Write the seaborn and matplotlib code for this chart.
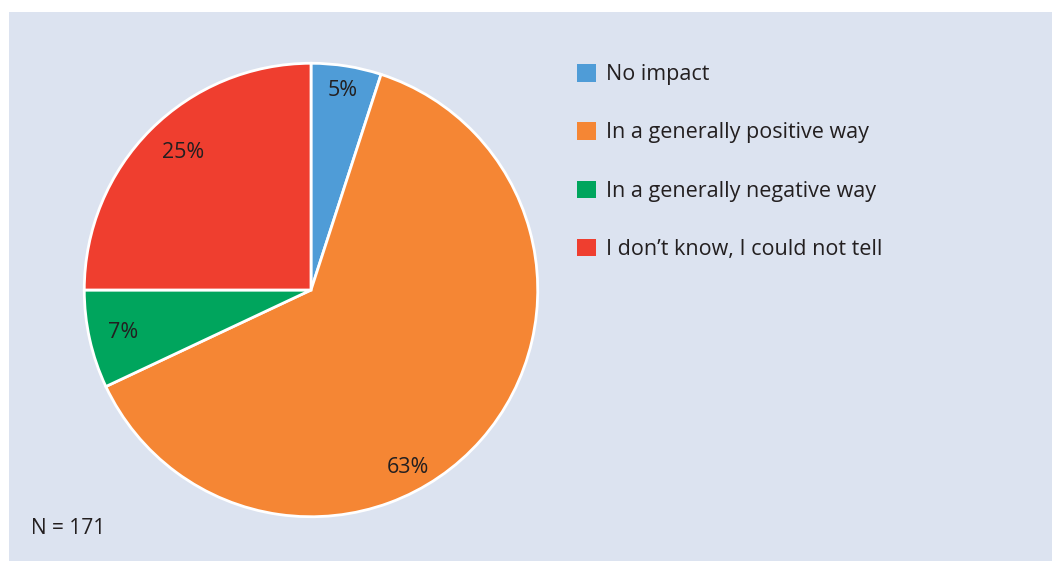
import matplotlib
matplotlib.use("Agg")
import matplotlib.pyplot as plt
from matplotlib.patches import Patch
import numpy as np
import seaborn as sns

# data
categories = ["No impact", "In a generally positive way",
              "In a generally negative way", "I don\u2019t know, I could not tell"]
shares = [5, 63, 7, 25]
pct_labels = ["5%", "63%", "7%", "25%"]
n_total = 171

colors = ["#4f9cd7", "#f58634", "#00a55d", "#ef3e2f"]
bg = "#dce3f0"
text_col = "#231f20"

# label placement tweaks (radius fraction, extra clockwise degrees)
lab_r = [0.89, 0.89, 0.85, 0.83]
lab_shift = [0, 20, 0, 2]

sns.set_theme(style="white")
plt.rcParams["font.family"] = ["Open Sans", "DejaVu Sans"]

W, H = 1052, 561
fig = plt.figure(figsize=(W / 100, H / 100), dpi=100)
fig.patch.set_facecolor("white")

# light panel behind everything
bg_ax = fig.add_axes([9 / W, 0, (W - 9) / W, (H - 12) / H], zorder=0)
bg_ax.set_facecolor(bg)
bg_ax.set_xticks([])
bg_ax.set_yticks([])
for s in bg_ax.spines.values():
    s.set_visible(False)

# pie
ax = fig.add_axes([82 / W, 42 / H, 458 / W, 458 / H], zorder=1)
ax.set_facecolor("none")
wedges, _ = ax.pie(shares, colors=sns.color_palette(colors), startangle=90,
                   counterclock=False, radius=1,
                   wedgeprops=dict(edgecolor="white", linewidth=2))
ax.set_xlim(-1.01, 1.01)
ax.set_ylim(-1.01, 1.01)
ax.set_aspect("equal")
ax.axis("off")

# percentage labels
for w, lab, r, sh in zip(wedges, pct_labels, lab_r, lab_shift):
    mid = np.deg2rad((w.theta1 + w.theta2) / 2 - sh)
    ax.text(r * np.cos(mid), r * np.sin(mid), lab, ha="center", va="center",
            fontsize=15.5, color=text_col)

# legend
handles = [Patch(facecolor=c, edgecolor="none") for c in colors]
leg = fig.legend(handles, categories, loc="upper left",
                 bbox_to_anchor=(558 / W, 1 - 45 / H), frameon=False,
                 fontsize=15.5, handlelength=0.85, handleheight=0.85,
                 handletextpad=0.47, labelspacing=1.72)
leg.set_zorder(2)
for t in leg.get_texts():
    t.set_color(text_col)

fig.text(31 / W, 1 - 528 / H, f"N = {n_total}", ha="left", va="center",
         fontsize=15, color=text_col, zorder=2)

fig.savefig("out.png", dpi=100)
